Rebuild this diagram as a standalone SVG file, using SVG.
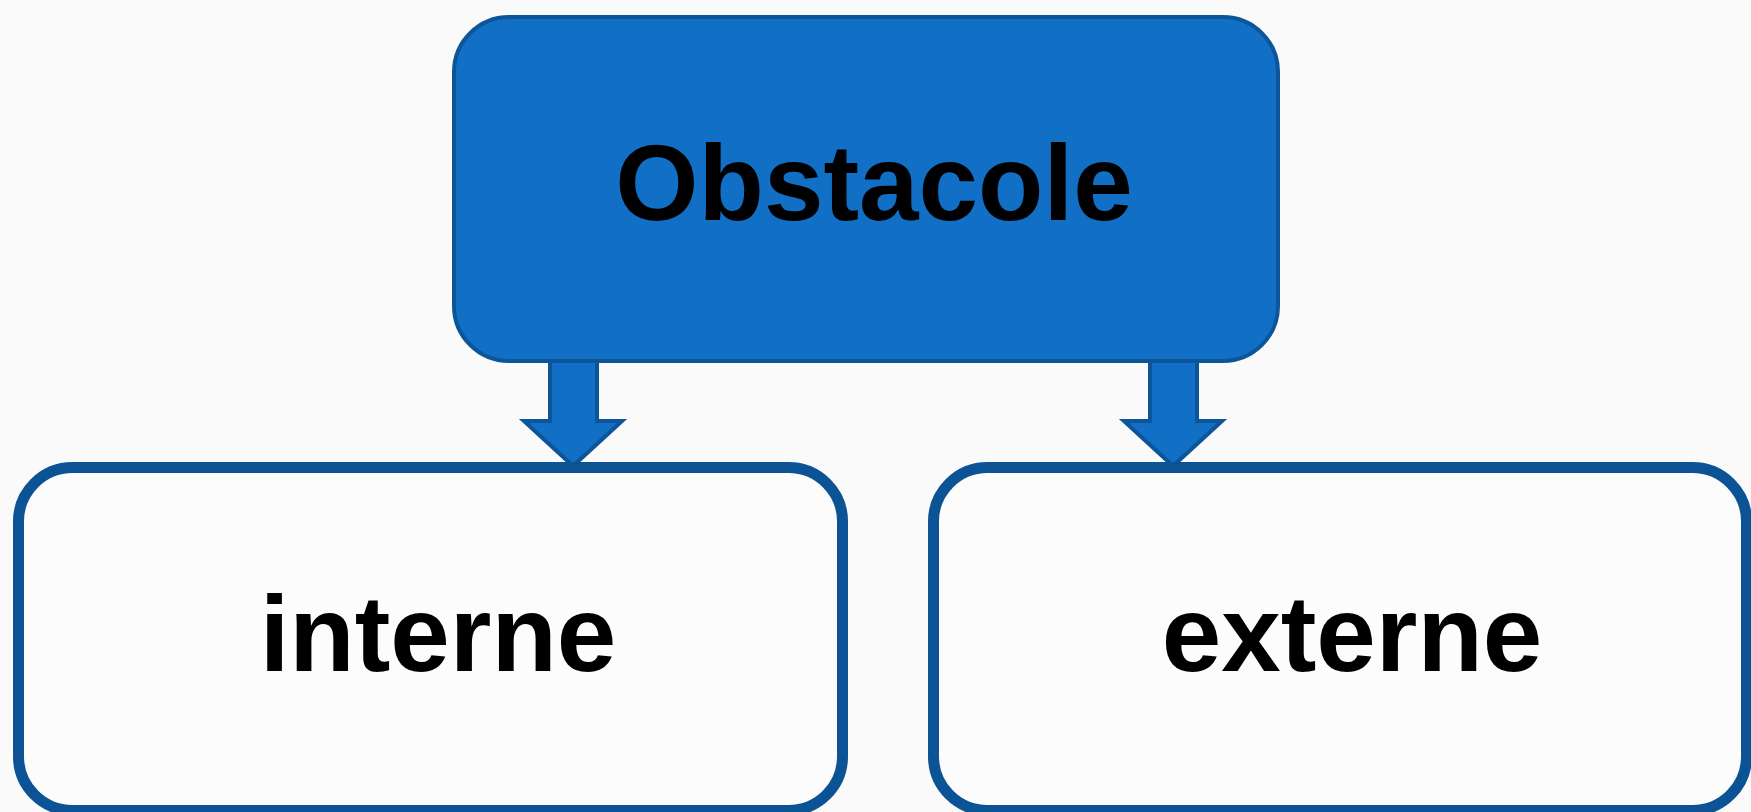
<svg xmlns="http://www.w3.org/2000/svg" width="1751" height="812" viewBox="0 0 1751 812">
<style>
.bg{fill:#FAFAFA}
.top{fill:#116FC5;stroke:#0C5598;stroke-width:4}
.sub{fill:#FCFCFC;stroke:#0B5394;stroke-width:11}
.arrow{fill:#116FC5;stroke:#0C5598;stroke-width:4;stroke-linejoin:miter}
.lbl{font-family:"Liberation Sans",Arial,sans-serif;font-weight:bold;font-size:107px;fill:#000;text-anchor:middle}
</style>
<rect class="bg" x="0" y="0" width="1751" height="812"/>
<g id="connectors">
<path class="arrow" d="M550,355 L550,421 L524,421 L573,466 L622,421 L597,421 L597,355 Z"/>
<path class="arrow" d="M1150,355 L1150,421 L1124,421 L1173,466 L1222,421 L1197,421 L1197,355 Z"/>
</g>
<g id="node-obstacole">
<rect class="top" x="454" y="17" width="824" height="344" rx="55" ry="55"/>
<text class="lbl" x="874" y="220">Obstacole</text>
</g>
<g id="node-interne">
<rect class="sub" x="18.5" y="467.5" width="824" height="343" rx="54" ry="54"/>
<text class="lbl" x="438" y="671">interne</text>
</g>
<g id="node-externe">
<rect class="sub" x="933.5" y="467.5" width="813" height="343" rx="54" ry="54"/>
<text class="lbl" x="1352" y="671">externe</text>
</g>
</svg>
